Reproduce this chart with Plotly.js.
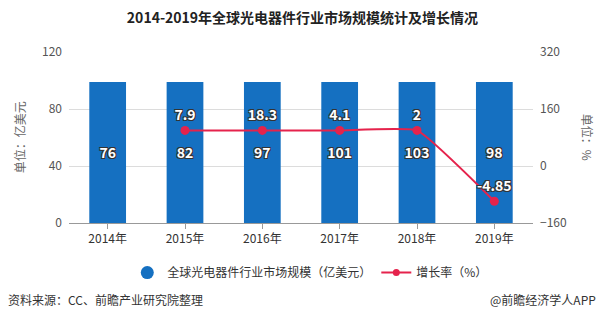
<!DOCTYPE html>
<html><head><meta charset="utf-8">
<script src="https://cdn.plot.ly/plotly-3.0.1.min.js"></script>
<style>html,body{margin:0;padding:0;background:#fff}#chart{width:605px;height:323px}</style>
</head><body><div id="chart"></div>
<script>
// Data
const years = ['2014年','2015年','2016年','2017年','2018年','2019年'];
// bar heights as drawn in the picture (left axis, 亿美元 scale)
const barDrawn = [99, 99, 99, 99, 99, 99];
// value labels printed on the bars
const marketSize = ['76','82','97','101','103','98'];
// growth line as drawn in the picture (right axis)
const growthDrawn = [null, 100, 100, 100, 100, -99];
// growth labels printed above points
const growthLabels = ['', '7.9', '18.3', '4.1', '2', '-4.85'];
const leftTicks = [0, 40, 80, 120];
const rightTicks = [-160, 0, 160, 320];

const FONT = '"Noto Sans CJK SC", "Microsoft YaHei", sans-serif';
const BLUE = '#1570c1';
const RED = '#e5234c';
const shadow = '-1px -1px 0 #333, 1px -1px 0 #333, -1px 1px 0 #333, 1px 1px 0 #333';

const traces = [
  {
    type: 'bar', x: years, y: barDrawn, text: marketSize,
    textposition: 'inside', insidetextanchor: 'middle',
    textfont: {family: FONT, size: 14, color: '#fff', weight: 'bold', shadow: shadow},
    marker: {color: BLUE}, showlegend: false, hoverinfo: 'skip', cliponaxis: false
  },
  {
    type: 'scatter', mode: 'lines+markers+text', x: years, y: growthDrawn, yaxis: 'y2',
    text: growthLabels, textposition: 'top center',
    textfont: {family: FONT, size: 14, color: '#fff', weight: 'bold', shadow: shadow},
    line: {color: RED, width: 2, shape: 'spline', smoothing: 0.35},
    marker: {color: RED, size: 9}, showlegend: false, connectgaps: false, cliponaxis: false
  },
  {
    type: 'scatter', mode: 'markers', x: [null], y: [null],
    name: '全球光电器件行业市场规模（亿美元）',
    marker: {color: BLUE, size: 13, symbol: 'circle'}
  },
  {
    type: 'scatter', mode: 'lines+markers', x: [null], y: [null], yaxis: 'y2',
    name: '增长率（%）',
    line: {color: RED, width: 2}, marker: {color: RED, size: 7}
  }
];

const layout = {
  width: 605, height: 323,
  margin: {l: 69, r: 72, t: 52, b: 100},
  paper_bgcolor: '#fff', plot_bgcolor: '#fff',
  font: {family: FONT, size: 12, color: '#555'},
  title: {text: '2014-2019年全球光电器件行业市场规模统计及增长情况', x: 0.5, xanchor: 'center', y: 0.945, yanchor: 'middle',
          font: {family: FONT, size: 14, color: '#222', weight: 'bold'}},
  bargap: 0.525,
  xaxis: {
    type: 'category', showgrid: false, showline: true, linecolor: '#999', linewidth: 1,
    ticks: 'outside', ticklen: 5, tickcolor: '#999',
    tickfont: {family: FONT, size: 12, color: '#333'}, fixedrange: true
  },
  yaxis: {
    range: [0, 120], tickvals: leftTicks, showgrid: true, gridcolor: '#dcdcdc', zeroline: false,
    showline: false, ticks: '', tickfont: {family: FONT, size: 12, color: '#555'}, ticklabelstandoff: 6
  },
  yaxis2: {
    overlaying: 'y', side: 'right', range: [-160, 320], tickvals: rightTicks,
    showgrid: false, zeroline: false, showline: false,
    tickfont: {family: FONT, size: 12, color: '#555'}, ticklabelstandoff: 6
  },
  legend: {orientation: 'h', x: 0.52, xanchor: 'center', y: -0.29, yanchor: 'middle',
           font: {family: FONT, size: 12, color: '#333'}, itemwidth: 30, tracegroupgap: 0},
  annotations: [
    {text: '单位：亿美元', xref: 'paper', yref: 'paper', x: -0.106, xanchor: 'center', y: 0.5, textangle: -90,
     showarrow: false, font: {family: FONT, size: 12, color: '#666'}},
    {text: '单位：%', xref: 'paper', yref: 'paper', x: 1.118, xanchor: 'center', y: 0.5, textangle: 90,
     showarrow: false, font: {family: FONT, size: 12, color: '#666'}},
    {text: '资料来源：CC、前瞻产业研究院整理', xref: 'paper', yref: 'paper', x: -0.135, xanchor: 'left',
     y: -0.45, yanchor: 'middle', showarrow: false, font: {family: FONT, size: 12, color: '#333'}},
    {text: '@前瞻经济学人APP', xref: 'paper', yref: 'paper', x: 1.14, xanchor: 'right',
     y: -0.45, yanchor: 'middle', showarrow: false, font: {family: FONT, size: 12, color: '#333'}}
  ]
};

Plotly.newPlot('chart', traces, layout, {displayModeBar: false, staticPlot: true});
</script></body></html>
